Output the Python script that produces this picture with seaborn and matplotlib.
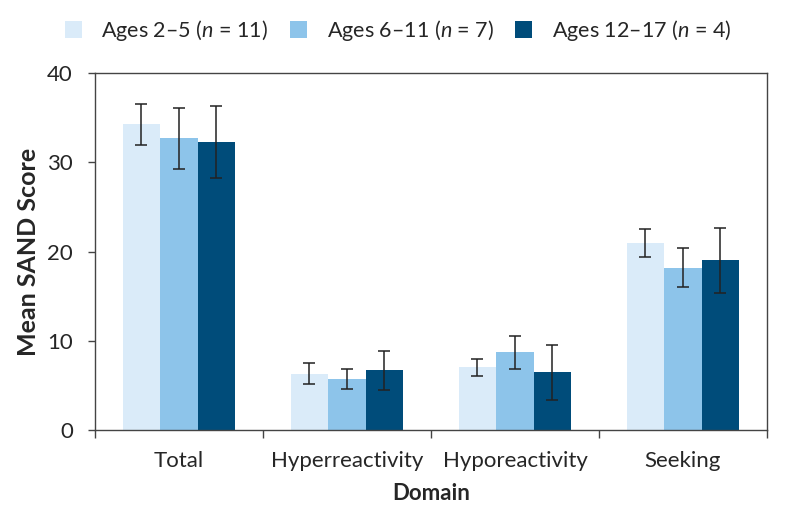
import numpy as np
import pandas as pd
import seaborn as sns
import matplotlib
matplotlib.use("Agg")
from matplotlib import pyplot as plt

domains = ["Total", "Hyperreactivity", "Hyporeactivity", "Seeking"]
groups = ["Ages 2\u20135 ($n$ = 11)", "Ages 6\u201311 ($n$ = 7)", "Ages 12\u201317 ($n$ = 4)"]

# mean and error (half-length) per age group
mean_2_5 = [34.3, 6.3, 7.05, 20.95]
mean_6_11 = [32.7, 5.7, 8.7, 18.2]
mean_12_17 = [32.3, 6.7, 6.45, 19.0]
err_2_5 = [2.3, 1.15, 0.95, 1.6]
err_6_11 = [3.4, 1.15, 1.85, 2.2]
err_12_17 = [4.0, 2.2, 3.1, 3.6]

colors = ["#DAEBF9", "#8DC4EA", "#004C7A"]

data = pd.DataFrame({
    "Domain": domains * 3,
    "Group": [groups[0]] * 4 + [groups[1]] * 4 + [groups[2]] * 4,
    "Score": mean_2_5 + mean_6_11 + mean_12_17,
})
errs = err_2_5 + err_6_11 + err_12_17

sns.set_style("white")
plt.rcParams["font.family"] = ["Lato", "DejaVu Sans"]
plt.rcParams["mathtext.fontset"] = "custom"
plt.rcParams["mathtext.it"] = "Lato:italic"
plt.rcParams["mathtext.rm"] = "Lato"

fig = plt.figure(figsize=(7.85, 5.23), dpi=100)
ax = fig.add_axes([0.121, 0.178, 0.856, 0.682])

sns.barplot(data=data, x="Domain", y="Score", hue="Group", palette=colors,
            width=0.67, saturation=1, errorbar=None, linewidth=0, ax=ax)

# error bars on top of each bar (patches come in hue order)
bars = [p for p in ax.patches if p.get_height() > 0][:12]
for p, e in zip(bars, errs):
    xc = p.get_x() + p.get_width() / 2
    ax.errorbar(xc, p.get_height(), yerr=e, color="#222222", lw=1.1,
                capsize=4, capthick=1.1)

ax.set_ylim(0, 40)
ax.set_xlim(-0.5, 3.5)
ax.set_yticks([0, 10, 20, 30, 40])
ax.tick_params(axis="y", labelsize=16, length=5, width=1, color="#444444", left=True,
               direction="out", pad=11)
ax.tick_params(axis="x", which="major", labelsize=16, length=0, pad=15)
ax.set_xticks([-0.5, 0.5, 1.5, 2.5, 3.5], minor=True)
ax.tick_params(axis="x", which="minor", length=6, width=1, color="#444444", bottom=True, direction="out")

for s in ax.spines.values():
    s.set_visible(True)
    s.set_color("#444444")
    s.set_linewidth(1)

ax.set_xlabel("Domain", fontsize=16, fontweight="bold", labelpad=9)
ax.set_ylabel("Mean SAND Score", fontsize=18, fontweight="bold", labelpad=5)

leg = ax.legend(loc="center", bbox_to_anchor=(0.451, 1.12), ncol=3, frameon=False,
                fontsize=15.5, handlelength=0.8, handleheight=0.8, handletextpad=0.9,
                columnspacing=1.0, borderaxespad=0)

fig.savefig("out.png", dpi=100)
